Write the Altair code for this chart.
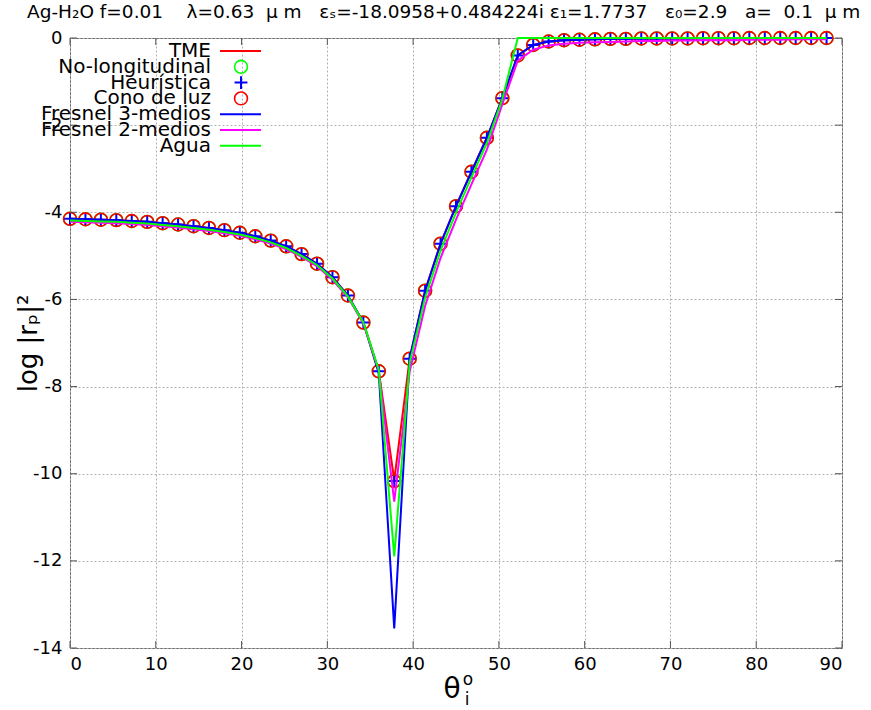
import altair as alt
import pandas as pd

# ---------------- data ----------------
theta = [0.0, 1.8, 3.6, 5.4, 7.2, 9.0, 10.8, 12.6, 14.4, 16.2,
         18.0, 19.8, 21.6, 23.4, 25.2, 27.0, 28.8, 30.6, 32.4, 34.2,
         36.0, 37.8, 39.6, 41.4, 43.2, 45.0, 46.8, 48.6, 50.4, 52.2,
         54.0, 55.8, 57.6, 59.4, 61.2, 63.0, 64.8, 66.6, 68.4, 70.2,
         72.0, 73.8, 75.6, 77.4, 79.2, 81.0, 82.8, 84.6, 86.4, 88.2]

tme = [-4.15, -4.16, -4.17, -4.18, -4.20, -4.22, -4.25, -4.28, -4.32, -4.36,
       -4.41, -4.47, -4.55, -4.65, -4.78, -4.96, -5.18, -5.49, -5.91, -6.53,
       -7.65, -10.15, -7.36, -5.80, -4.72, -3.86, -3.07, -2.29, -1.38, -0.40,
       -0.16, -0.08, -0.05, -0.04, -0.03, -0.02, -0.02, -0.01, -0.01, -0.01,
       -0.01, -0.005, -0.005, -0.005, 0.0, 0.0, 0.0, 0.0, 0.0, 0.0]

no_longitudinal = [-4.15, -4.16, -4.17, -4.18, -4.20, -4.22, -4.25, -4.28, -4.32, -4.36,
                   -4.41, -4.47, -4.55, -4.65, -4.78, -4.96, -5.18, -5.49, -5.91, -6.53,
                   -7.65, -10.17, -7.36, -5.80, -4.72, -3.86, -3.07, -2.29, -1.38, -0.40,
                   -0.16, -0.08, -0.05, -0.04, -0.03, -0.02, -0.02, -0.01, -0.01, -0.01,
                   -0.01, -0.005, -0.005, -0.005, 0.0, 0.0, 0.0, 0.0, 0.0, 0.0]
heuristica = list(no_longitudinal)
cono_de_luz = list(no_longitudinal)

fresnel3 = [-4.15, -4.16, -4.17, -4.18, -4.20, -4.22, -4.25, -4.28, -4.32, -4.36,
            -4.41, -4.47, -4.55, -4.65, -4.78, -4.96, -5.18, -5.49, -5.91, -6.53,
            -7.70, -13.55, -7.34, -5.80, -4.72, -3.86, -3.07, -2.29, -1.38, -0.40,
            -0.16, -0.08, -0.05, -0.04, -0.03, -0.02, -0.02, -0.01, -0.01, -0.01,
            -0.01, -0.005, -0.005, -0.005, 0.0, 0.0, 0.0, 0.0, 0.0, 0.0]

fresnel2 = [-4.22, -4.23, -4.24, -4.25, -4.27, -4.29, -4.32, -4.35, -4.39, -4.43,
            -4.48, -4.54, -4.62, -4.72, -4.85, -5.02, -5.24, -5.55, -5.95, -6.55,
            -7.64, -10.64, -7.65, -6.15, -5.05, -4.17, -3.36, -2.56, -1.52, -0.52,
            -0.27, -0.17, -0.13, -0.11, -0.10, -0.09, -0.08, -0.07, -0.07, -0.06,
            -0.06, -0.05, -0.05, -0.05, -0.04, -0.04, -0.04, -0.03, -0.03, -0.03]

agua = [-4.19, -4.20, -4.21, -4.22, -4.24, -4.26, -4.29, -4.32, -4.36, -4.40,
        -4.45, -4.51, -4.59, -4.69, -4.82, -5.00, -5.21, -5.52, -5.93, -6.53,
        -7.62, -11.90, -7.45, -5.96, -4.88, -4.01, -3.20, -2.41, -1.40, 0.0,
        0.0, 0.0, 0.0, 0.0, 0.0, 0.0, 0.0, 0.0, 0.0, 0.0,
        0.0, 0.0, 0.0, 0.0, 0.0, 0.0, 0.0, 0.0, 0.0, 0.0]

x_ticks = [0, 10, 20, 30, 40, 50, 60, 70, 80, 90]
y_ticks = [0, -2, -4, -6, -8, -10, -12, -14]

legend_labels = ["TME", "No-longitudinal", "Heurística", "Cono de luz",
                 "Fresnel 3-medios", "Fresnel 2-medios", "Agua"]

title_text = ("Ag-H\u2082O f=0.01    \u03bb=0.63  \u03bc m   \u03b5\u209b=-18.0958+0.484224i "
              "\u03b5\u2081=1.7737   \u03b5\u2080=2.9   a=  0.1  \u03bc m").replace(" ", "\u00a0")

# ---------------- styling ----------------
FONT = "DejaVu Sans"
RED, GREEN, BLUE, MAGENTA = "#ff0000", "#00ff00", "#0000ff", "#ff00ff"
W, H = 772, 610
PLUS = "M-1,0L1,0M0,-1L0,1"
MSIZE = 165

df = pd.DataFrame({
    "theta": theta, "tme": tme, "nolong": no_longitudinal, "heur": heuristica,
    "cono": cono_de_luz, "f3": fresnel3, "f2": fresnel2, "agua": agua,
})

xs = alt.Scale(domain=[0, 90], nice=False, zero=False)
ys = alt.Scale(domain=[-14, 0], nice=False, zero=False)

x_axis = alt.Axis(values=x_ticks, title=None, grid=True, gridDash=[2, 2],
                  gridColor="#b0b0b0", gridWidth=1, ticks=False, domain=False,
                  labelFontSize=18, labelFont=FONT, labelColor="#000",
                  labelPadding=7, labelExpr="'' + datum.value")
y_axis = alt.Axis(values=y_ticks, title="log |r\u209a|\u00b2", grid=True, gridDash=[2, 2],
                  gridColor="#b0b0b0", gridWidth=1, ticks=False, domain=False,
                  labelFontSize=18, labelFont=FONT, labelColor="#000",
                  labelPadding=8, labelExpr="'' + datum.value",
                  titleFontSize=26, titleFont=FONT, titleFontWeight="normal",
                  titleColor="#000", titleX=-42, titleY=H / 2, titleAngle=270,
                  titleAlign="center", titleBaseline="middle")

base = alt.Chart(df)
X = alt.X("theta:Q", scale=xs, axis=x_axis)


def line(field, color):
    return base.mark_line(color=color, strokeWidth=2).encode(
        x=X, y=alt.Y(f"{field}:Q", scale=ys, axis=y_axis))


def points(field, color, shape, size, sw):
    return base.mark_point(color=color, shape=shape, size=size, filled=False,
                           strokeWidth=sw, opacity=1).encode(
        x=X, y=alt.Y(f"{field}:Q", scale=ys, axis=y_axis))


layers = [
    line("tme", RED),
    points("nolong", GREEN, "circle", MSIZE, 1.6),
    points("heur", BLUE, PLUS, MSIZE, 2),
    points("cono", RED, "circle", MSIZE, 1.6),
    line("f3", BLUE),
    line("f2", MAGENTA),
    line("agua", GREEN),
]

# inward tick marks on all four borders (gnuplot style)
xt = alt.Chart(pd.DataFrame({"t": x_ticks}))
yt = alt.Chart(pd.DataFrame({"t": y_ticks}))
tick_col = "#555555"
layers += [
    xt.mark_rule(color=tick_col).encode(x=alt.X("t:Q", scale=xs, axis=x_axis),
                                        y=alt.value(H), y2=alt.value(H - 7)),
    xt.mark_rule(color=tick_col).encode(x=alt.X("t:Q", scale=xs, axis=x_axis),
                                        y=alt.value(0), y2=alt.value(7)),
    yt.mark_rule(color=tick_col).encode(y=alt.Y("t:Q", scale=ys, axis=y_axis),
                                        x=alt.value(0), x2=alt.value(7)),
    yt.mark_rule(color=tick_col).encode(y=alt.Y("t:Q", scale=ys, axis=y_axis),
                                        x=alt.value(W), x2=alt.value(W - 7)),
]

# legend (gnuplot style: text right-aligned, sample to the right)
leg_styles = [("line", RED), ("circle", GREEN), ("plus", BLUE), ("circle", RED),
              ("line", BLUE), ("line", MAGENTA), ("line", GREEN)]
one = pd.DataFrame({"k": [0]})
for i, (lab, (kind, col)) in enumerate(zip(legend_labels, leg_styles)):
    ly = 13 + 15.8 * i
    layers.append(alt.Chart(pd.DataFrame({"t": [lab]})).mark_text(
        align="right", baseline="middle", font=FONT, fontSize=20, color="#000").encode(
        x=alt.value(141), y=alt.value(ly), text="t:N"))
    if kind == "line":
        layers.append(alt.Chart(one).mark_rule(color=col, strokeWidth=2).encode(
            x=alt.value(150), x2=alt.value(191), y=alt.value(ly)))
    else:
        shape = "circle" if kind == "circle" else PLUS
        layers.append(alt.Chart(one).mark_point(color=col, shape=shape, size=MSIZE,
                                                strokeWidth=1.6 if kind == "circle" else 2,
                                                opacity=1).encode(
            x=alt.value(171), y=alt.value(ly)))

# title and x-axis label
layers.append(alt.Chart(pd.DataFrame({"t": [title_text]})).mark_text(
    align="left", baseline="middle", font=FONT, fontSize=18.5, color="#000").encode(
    x=alt.value(-43), y=alt.value(-26), text="t:N"))
layers.append(alt.Chart(pd.DataFrame({"t": ["\u03b8"]})).mark_text(
    align="center", baseline="middle", font=FONT, fontSize=28, color="#000").encode(
    x=alt.value(382), y=alt.value(652), text="t:N"))
layers.append(alt.Chart(pd.DataFrame({"t": ["o"]})).mark_text(
    align="center", baseline="middle", font=FONT, fontSize=17, color="#000").encode(
    x=alt.value(398), y=alt.value(642), text="t:N"))
layers.append(alt.Chart(pd.DataFrame({"t": ["i"]})).mark_text(
    align="center", baseline="middle", font=FONT, fontSize=17, color="#000").encode(
    x=alt.value(397), y=alt.value(662), text="t:N"))

chart = alt.layer(*layers).properties(
    width=W, height=H,
    autosize=alt.AutoSizeParams(type="none"),
    padding={"left": 70, "top": 38, "right": 29, "bottom": 62},
    background="white",
).configure_view(stroke="#666666", strokeWidth=1)

chart.save("out.html", embed_options={"renderer": "svg", "actions": False})
